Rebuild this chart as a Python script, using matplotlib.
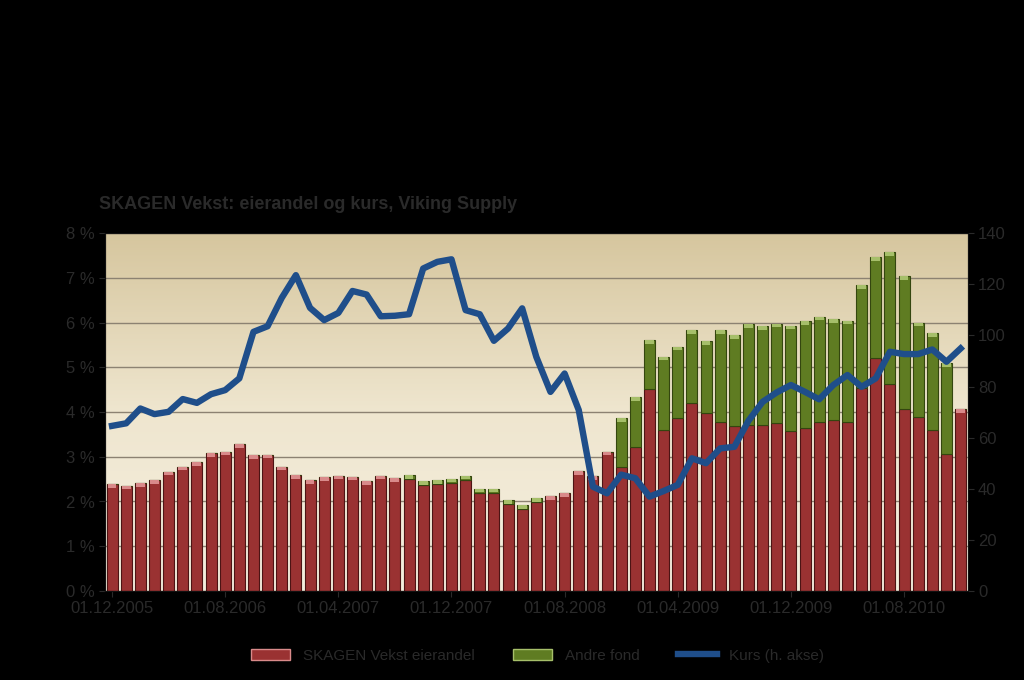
# Gráfica de barras apiladas (eierandel) con línea de kurs en eje secundario
import matplotlib.pyplot as plt
import numpy as np
import pandas as pd
from matplotlib.colors import LinearSegmentedColormap
from matplotlib.ticker import FuncFormatter, MultipleLocator

# Datos (un valor por mes, dic 2005 - dic 2010)
fechas = pd.date_range('2005-12-01', periods=61, freq='MS')

# Parte roja de cada barra (%)
vekst_eierandel = [
    2.39, 2.35, 2.41, 2.48, 2.67, 2.78, 2.88, 3.08, 3.11, 3.28,
    3.03, 3.05, 2.78, 2.59, 2.48, 2.54, 2.58, 2.55, 2.46, 2.58,
    2.52, 2.50, 2.37, 2.39, 2.41, 2.48, 2.20, 2.20, 1.94, 1.83,
    1.98, 2.12, 2.18, 2.68, 2.57, 3.11, 2.78, 3.23, 4.51, 3.61,
    3.86, 4.21, 3.98, 3.78, 3.69, 3.72, 3.72, 3.76, 3.58, 3.65,
    3.78, 3.82, 3.78, 4.53, 5.20, 4.62, 4.08, 3.88, 3.61, 3.06,
    4.06,
]

# Parte verde apilada encima (%)
andre_fond = [
    0, 0, 0, 0, 0, 0, 0, 0, 0, 0,
    0, 0, 0, 0, 0, 0, 0, 0, 0, 0,
    0, 0.09, 0.09, 0.09, 0.10, 0.10, 0.09, 0.09, 0.09, 0.09,
    0.09, 0, 0, 0, 0, 0, 1.08, 1.10, 1.10, 1.63,
    1.60, 1.62, 1.61, 2.05, 2.03, 2.25, 2.20, 2.22, 2.35, 2.38,
    2.35, 2.26, 2.26, 2.31, 2.26, 2.95, 2.96, 2.12, 2.15, 2.03,
    0,
]

# Línea en el eje derecho
kurs = [
    64.6, 65.6, 71.4, 69.2, 70.1, 75.1, 73.6, 77.0, 78.6, 83.2,
    101.4, 103.6, 114.7, 123.6, 110.8, 106.0, 108.8, 117.4, 116.0, 107.5,
    107.7, 108.3, 126.2, 128.8, 129.8, 109.9, 108.3, 97.9, 102.7, 110.6,
    91.6, 77.9, 85.1, 70.8, 40.8, 38.2, 45.5, 44.1, 36.9, 39.1,
    41.5, 51.9, 50.0, 55.8, 56.4, 66.6, 74.0, 77.7, 80.6, 77.9,
    75.0, 80.6, 84.5, 79.9, 83.2, 93.6, 92.7, 92.7, 94.5, 89.7,
    94.9,
]

titulo = 'SKAGEN Vekst: eierandel og kurs, Viking Supply'
etiquetas = ['SKAGEN Vekst eierandel', 'Andre fond', 'Kurs (h. akse)']


def crear_grafica():
    color_texto = '#2a2a2a'
    plt.rcParams['font.family'] = ['Liberation Sans', 'DejaVu Sans']

    fig = plt.figure(figsize=(10.24, 6.8), dpi=100, facecolor='black')
    ax = fig.add_axes([0.1025, 0.131, 0.8425, 0.526])

    x = np.arange(len(fechas))
    rojo = np.array(vekst_eierandel)
    verde = np.array(andre_fond)
    total = rojo + verde

    # Fondo degradado (crema abajo, beige oscuro arriba)
    cmap = LinearSegmentedColormap.from_list('fondo', ['#f5efdf', '#efe6cf', '#d6c69e'])
    ax.imshow(np.linspace(0, 1, 256).reshape(-1, 1), origin='lower', cmap=cmap,
              extent=[-0.5, len(x) - 0.5, 0, 8], aspect='auto', zorder=0)

    # Barras apiladas
    ancho = 0.78
    ax.bar(x, rojo, width=ancho, color='#9a3232', edgecolor='#4d1414', linewidth=0.8, zorder=2)
    ax.bar(x, verde, bottom=rojo, width=ancho, color='#5f7c22', edgecolor='#34460f',
           linewidth=0.8, zorder=2)

    # Remate claro en la parte superior de cada barra
    tapa = 0.08
    solo_rojo = verde == 0
    ax.bar(x[solo_rojo], tapa, bottom=rojo[solo_rojo] - tapa, width=ancho * 0.8,
           color='#d98a8a', linewidth=0, zorder=3)
    ax.bar(x[~solo_rojo], tapa, bottom=total[~solo_rojo] - tapa, width=ancho * 0.8,
           color='#a6bf6a', linewidth=0, zorder=3)

    ax.set_xlim(-0.5, len(x) - 0.5)
    ax.set_ylim(0, 8)
    ax.yaxis.set_major_locator(MultipleLocator(1))
    ax.yaxis.set_major_formatter(FuncFormatter(lambda v, p: f'{v:.0f} %'))
    ax.grid(axis='y', color='#8c8272', linewidth=1)
    ax.set_axisbelow(True)

    posiciones = x[::8]
    ax.set_xticks(posiciones)
    ax.set_xticklabels([fechas[i].strftime('%d.%m.%Y') for i in posiciones])

    # Eje secundario con la línea
    ax2 = ax.twinx()
    ax2.plot(x, kurs, color='#1f4e8a', linewidth=4.6, solid_joinstyle='round', zorder=4)
    ax2.set_ylim(0, 140)
    ax2.yaxis.set_major_locator(MultipleLocator(20))

    for eje in (ax, ax2):
        eje.tick_params(colors=color_texto, labelsize=12, length=4)
        for lado in eje.spines.values():
            lado.set_color('#111111')

    fig.text(0.097, 0.699, titulo, color=color_texto, fontsize=13, fontweight='bold',
             ha='left', va='center')

    # Leyenda combinada debajo del gráfico
    manejadores = [
        plt.Rectangle((0, 0), 1, 1, facecolor='#9a3232', edgecolor='#d98a8a'),
        plt.Rectangle((0, 0), 1, 1, facecolor='#5f7c22', edgecolor='#a6bf6a'),
        plt.Line2D([0], [0], color='#1f4e8a', linewidth=4.6),
    ]
    fig.legend(manejadores, etiquetas, loc='center', bbox_to_anchor=(0.525, 0.036), ncol=3,
               frameon=False, fontsize=11, labelcolor=color_texto, handlelength=2.6,
               columnspacing=2.5)

    fig.savefig('out.png', dpi=100, facecolor='black')


if __name__ == "__main__":
    crear_grafica()
